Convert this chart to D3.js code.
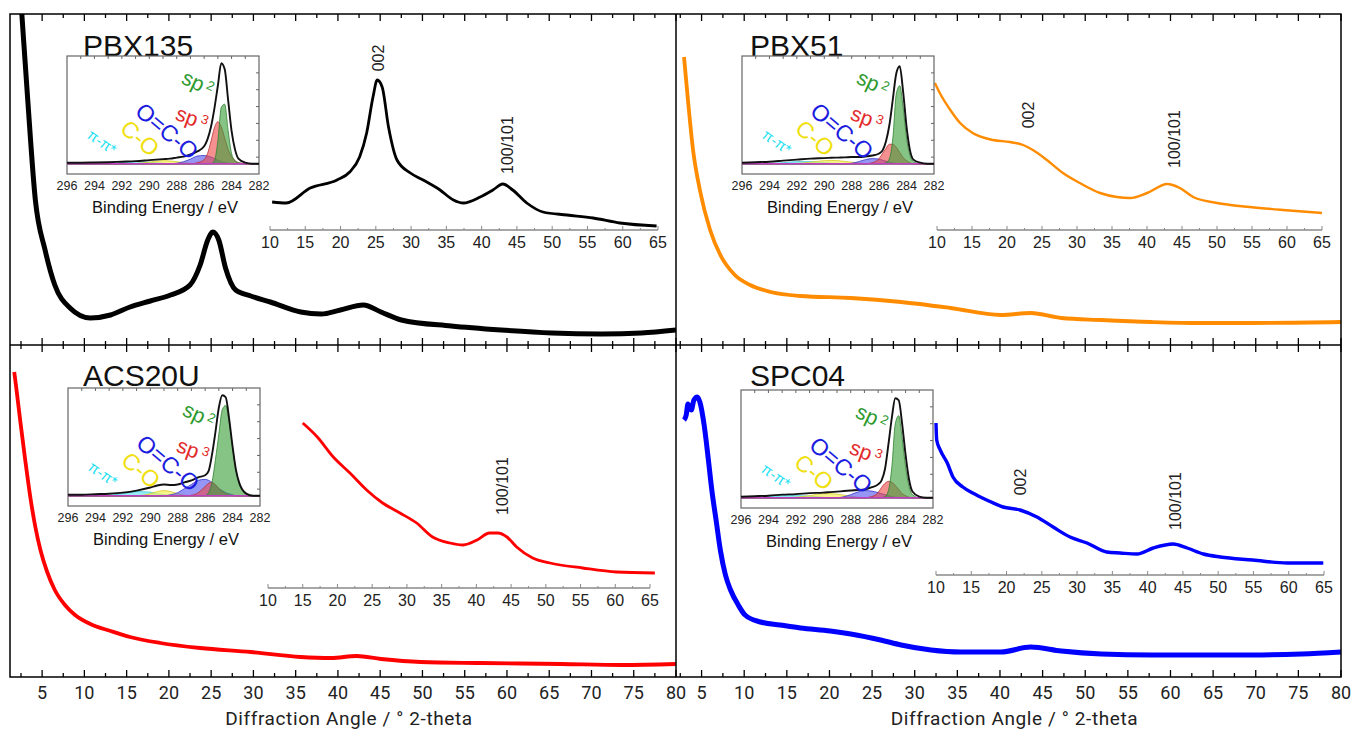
<!DOCTYPE html>
<html>
<head>
<meta charset="utf-8">
<script src="https://cdn.jsdelivr.net/npm/d3@7"></script>
<style>
body { margin: 0; background: #fff; }
svg { display: block; }
</style>
</head>
<body>
<svg id="chart" width="1356" height="730"></svg>
<script>
// ---- tick labels ----
var mainTicks = [5, 10, 15, 20, 25, 30, 35, 40, 45, 50, 55, 60, 65, 70, 75, 80];
var insetTicks = [10, 15, 20, 25, 30, 35, 40, 45, 50, 55, 60, 65];
var xpsTicks = [296, 294, 292, 290, 288, 286, 284, 282];

// ---- main XRD curves [2theta, intensity a.u.] ----
var pbx135Main = [[2.2,380],[2.6,331],[3.3,245],[4.2,145],[5.35,95],[6.5,60],[8.3,37],[10.7,27],[13.1,30],[15.4,38],[17.8,44],[20.2,50],[22.5,60],[23.7,80],[24.6,105],[25.2,113],[25.9,105],[26.7,77],[27.9,55],[29.7,49],[32.0,43],[35.6,33],[38.0,31],[40.3,35],[43.0,40],[45.1,33],[47.5,25],[53.4,19],[59.3,15],[65.3,12],[71.2,11],[75.9,12],[80.0,15]];
var pbx51Main = [[2.94,288],[3.4,245],[4.0,195],[4.8,155],[6.0,115],[7.2,90],[8.9,70],[10.7,60],[13.1,53],[16.6,49],[22.5,47],[28.4,43],[34.2,37],[40.1,30],[43.6,32],[47.2,27],[51.9,25],[57.8,23],[63.6,22],[69.5,22],[80.0,23]];
var acs20uMain = [[1.7,305],[1.9,292],[2.4,257],[3.0,217],[3.6,180],[4.2,150],[4.8,127],[5.6,105],[6.5,87],[7.7,72],[8.9,62],[10.7,53],[13.1,46],[15.4,40],[19.0,34],[23.7,29],[29.7,25],[35.6,20],[39.2,19],[42.2,21],[45.1,18],[49.8,15],[56.9,14],[66.4,13],[73.6,12],[80.0,13]];
var spc04Main = [[2.94,257],[3.2,262],[3.4,273],[3.8,267],[4.1,277],[4.5,280],[4.8,275],[5.3,252],[5.8,217],[6.2,187],[6.7,157],[7.2,127],[7.8,102],[8.4,87],[9.3,72],[10.1,62],[11.9,55],[14.2,52],[16.6,49],[20.1,46],[22.5,43],[26.0,37],[28.4,32],[31.9,27],[35.4,25],[40.1,25],[43.6,30],[47.2,26],[51.9,23],[57.8,22],[63.6,22],[69.5,22],[75.4,23],[80.0,25]];

// ---- inset XRD curves ----
var pbx135Inset = [[10.3,28],[12.3,27],[15.7,42],[19.5,50],[21.3,58],[22.7,73],[23.7,97],[24.6,133],[25.2,150],[25.9,143],[26.8,103],[28.0,70],[29.9,57],[31.7,50],[34.1,40],[36.0,30],[37.4,27],[39.8,33],[41.6,40],[43.0,46],[44.4,40],[46.4,27],[48.7,18],[52.1,15],[55.8,12],[59.6,7],[64.8,4]];
var pbx51Inset = [[9.7,147],[10.4,137],[11.9,120],[13.3,107],[15.1,97],[18.0,90],[20.4,88],[22.3,85],[23.7,80],[25.7,70],[28.0,57],[30.4,47],[33.3,37],[35.7,33],[37.6,32],[40.0,37],[42.9,46],[44.7,42],[46.6,33],[50.0,27],[54.7,23],[59.4,20],[65.0,17]];
var acs20uInset = [[15.0,165],[17.1,151],[19.4,131],[21.8,115],[24.2,98],[26.5,85],[29.0,75],[31.4,65],[33.7,51],[36.2,45],[38.1,43],[40.1,48],[41.9,55],[43.1,55],[44.4,51],[45.8,41],[48.1,30],[50.6,25],[55.3,20],[60.2,16],[65.7,15]];
var spc04Inset = [[10.0,152],[10.1,135],[10.6,125],[11.6,112],[12.4,98],[13.8,88],[15.2,82],[17.2,75],[19.5,68],[21.9,65],[24.3,58],[26.6,48],[29.0,38],[31.4,32],[34.2,23],[36.1,22],[38.5,21],[40.8,27],[43.6,31],[45.6,27],[47.9,21],[50.3,18],[54.9,15],[59.8,12],[64.9,12]];

// ---- peak labels [text, 2theta, intensity] ----
var pbx135Peaks = [["002", 25.3, 172], ["100/101", 43.7, 85]];
var pbx51Peaks = [["002", 23.0, 115], ["100/101", 43.9, 91]];
var acs20uPeaks = [["100/101", 43.8, 102]];
var spc04Peaks = [["002", 21.9, 93], ["100/101", 44.0, 74]];

// ---- XPS C1s fits (relative intensity) ----
var xpsEnergy = [296,295,294,293,292,291,290,289.5,289,288.5,288,287.5,287,286.5,286,285.75,285.5,285.25,285,284.75,284.5,284.25,284,283.75,283.5,283,282.5,282];

var pbx135Env = [.01,.01,.012,.015,.02,.025,.035,.04,.045,.05,.06,.07,.09,.12,.17,.24,.36,.54,.76,.98,.92,.62,.32,.14,.05,.01,0,0];
var pbx135Sp2 = [0,0,0,0,0,0,0,0,0,0,0,0,0,0,0,0,0,.03,.22,.55,.58,.32,.10,.03,.01,0,0,0];
var pbx135Sp3 = [0,0,0,0,0,0,0,0,0,0,0,0,0,.01,.04,.10,.22,.35,.41,.36,.25,.14,.07,.03,.01,0,0,0];
var pbx135Oco = [0,0,0,0,0,0,0,0,0,0,.005,.02,.045,.075,.08,.075,.065,.05,.035,.02,.01,.005,0,0,0,0,0,0];
var pbx135Co  = [0,0,0,0,0,.003,.015,.025,.03,.027,.02,.01,.005,0,0,0,0,0,0,0,0,0,0,0,0,0,0,0];
var pbx135Pi  = [0,0,0,.003,.01,.02,.015,.01,.005,0,0,0,0,0,0,0,0,0,0,0,0,0,0,0,0,0,0,0];

var pbx51Env = [.01,.015,.02,.03,.04,.05,.055,.058,.06,.062,.065,.065,.07,.08,.10,.13,.22,.38,.63,.88,.95,.70,.36,.13,.04,.01,0,0];
var pbx51Sp2 = [0,0,0,0,0,0,0,0,0,0,0,0,0,0,0,0,.01,.05,.25,.68,.76,.55,.25,.08,.02,0,0,0];
var pbx51Sp3 = [0,0,0,0,0,0,0,0,0,0,0,0,0,.01,.05,.10,.15,.19,.19,.16,.11,.06,.03,.01,0,0,0,0];
var pbx51Oco = [0,0,0,0,0,0,0,0,0,0,.005,.02,.04,.05,.045,.035,.025,.015,.008,.003,0,0,0,0,0,0,0,0];
var pbx51Co  = [0,0,0,0,.003,.015,.03,.032,.03,.022,.015,.007,.002,0,0,0,0,0,0,0,0,0,0,0,0,0,0,0];
var pbx51Pi  = [0,0,.003,.01,.02,.02,.01,.006,.003,0,0,0,0,0,0,0,0,0,0,0,0,0,0,0,0,0,0,0];

var acs20uEnv = [.01,.01,.015,.02,.03,.05,.08,.10,.11,.105,.11,.13,.15,.18,.20,.24,.40,.62,.86,.98,.96,.75,.48,.25,.12,.02,0,0];
var acs20uSp2 = [0,0,0,0,0,0,0,0,0,0,0,0,0,0,0,.03,.13,.35,.60,.84,.88,.72,.47,.25,.11,.02,0,0];
var acs20uSp3 = [0,0,0,0,0,0,0,0,0,0,0,0,.005,.03,.09,.12,.13,.11,.07,.04,.02,.005,0,0,0,0,0,0];
var acs20uOco = [0,0,0,0,0,0,0,0,0,.01,.03,.07,.11,.15,.16,.15,.13,.10,.07,.05,.03,.02,.01,0,0,0,0,0];
var acs20uCo  = [0,0,0,0,0,0,.02,.04,.05,.04,.02,.005,0,0,0,0,0,0,0,0,0,0,0,0,0,0,0,0];
var acs20uPi  = [0,0,0,.005,.02,.04,.035,.02,.01,.003,0,0,0,0,0,0,0,0,0,0,0,0,0,0,0,0,0,0];

var spc04Env = [.01,.015,.02,.03,.035,.045,.05,.055,.06,.065,.07,.075,.08,.10,.13,.17,.28,.52,.78,.97,.95,.72,.42,.18,.06,.01,0,0];
var spc04Sp2 = [0,0,0,0,0,0,0,0,0,0,0,0,0,0,0,0,.01,.07,.30,.72,.80,.58,.30,.11,.03,0,0,0];
var spc04Sp3 = [0,0,0,0,0,0,0,0,0,0,0,0,0,.01,.05,.10,.14,.16,.15,.12,.08,.04,.02,.005,0,0,0,0];
var spc04Oco = [0,0,0,0,0,0,0,0,0,.01,.03,.055,.07,.065,.05,.04,.03,.02,.01,.005,0,0,0,0,0,0,0,0];
var spc04Co  = [0,0,0,0,.005,.02,.04,.04,.035,.025,.015,.005,0,0,0,0,0,0,0,0,0,0,0,0,0,0,0,0];
var spc04Pi  = [0,.003,.01,.02,.02,.015,.005,0,0,0,0,0,0,0,0,0,0,0,0,0,0,0,0,0,0,0,0,0];

// ---- layout ----
var svg = d3.select("#chart");
var L = 10, R = 1341, T = 14, MX = 676, MY = 345, B = 677;
var sans = "'Liberation Sans', Arial, sans-serif";
var din = "Roboto, 'DejaVu Sans', sans-serif";

var panels = [
  {name: "PBX135", color: "#000", main: pbx135Main, mw: 5, inset: pbx135Inset, iw: 2.8, peaks: pbx135Peaks,
   xps: [pbx135Env, pbx135Sp2, pbx135Sp3, pbx135Oco, pbx135Co, pbx135Pi],
   x0: L, x1: MX, y0: T, y1: MY, dom: [1.2, 80],
   ix: [270, 658], iy: 230, px: 67, py: 56, tx: 83, ty: 56},
  {name: "PBX51", color: "#ff8c00", main: pbx51Main, mw: 3.8, inset: pbx51Inset, iw: 2.4, peaks: pbx51Peaks,
   xps: [pbx51Env, pbx51Sp2, pbx51Sp3, pbx51Oco, pbx51Co, pbx51Pi],
   x0: MX, x1: R, y0: T, y1: MY, dom: [2, 80],
   ix: [937, 1322], iy: 230, px: 742, py: 56, tx: 750, ty: 56},
  {name: "ACS20U", color: "#ff0000", main: acs20uMain, mw: 3.8, inset: acs20uInset, iw: 2.8, peaks: acs20uPeaks,
   xps: [acs20uEnv, acs20uSp2, acs20uSp3, acs20uOco, acs20uCo, acs20uPi],
   x0: L, x1: MX, y0: MY, y1: B, dom: [1.2, 80],
   ix: [268, 650], iy: 588, px: 68, py: 388, tx: 83, ty: 386},
  {name: "SPC04", color: "#0000ff", main: spc04Main, mw: 5, inset: spc04Inset, iw: 3.4, peaks: spc04Peaks,
   xps: [spc04Env, spc04Sp2, spc04Sp3, spc04Oco, spc04Co, spc04Pi],
   x0: MX, x1: R, y0: MY, y1: B, dom: [2, 80],
   ix: [936, 1324], iy: 575, px: 741, py: 390, tx: 750, ty: 386}
];

var compStyle = [
  null,
  {fill: "rgba(60,160,60,0.62)", stroke: "#2f7f2f"},   // sp2
  {fill: "rgba(238,70,70,0.6)", stroke: "#b83030"},    // sp3
  {fill: "rgba(80,80,240,0.6)", stroke: "#3434c8"},    // O=C-O
  {fill: "rgba(245,238,80,0.65)", stroke: "#d8c820"},  // C-O
  {fill: "rgba(70,225,240,0.55)", stroke: "#30c8d8"}   // pi-pi*
];

var xpsLabels = [
  {txt: "sp", sup: "2", color: "#2e9a2e", dx: 131, dy: 27, rot: 25, size: 21},
  {txt: "sp", sup: "3", color: "#e32a2a", dx: 125, dy: 62, rot: 20, size: 21},
  {txt: "O=C-O", color: "#1c1ce0", dx: 100, dy: 75, rot: 40, size: 23},
  {txt: "C-O", color: "#f0e010", dx: 73, dy: 82, rot: 40, size: 23},
  {txt: "\u03c0-\u03c0*", color: "#22dff0", dx: 35, dy: 86, rot: 35, size: 15}
];

var defs = svg.append("defs");

panels.forEach(function(p, k) {
  var x = d3.scaleLinear().domain(p.dom).range([p.x0, p.x1]);
  var y = d3.scaleLinear().domain([0, p.y1 - p.y0]).range([p.y1, p.y0]);

  defs.append("clipPath").attr("id", "clip" + k)
    .append("rect").attr("x", p.x0).attr("y", p.y0)
    .attr("width", p.x1 - p.x0).attr("height", p.y1 - p.y0);

  // main curve
  svg.append("path")
    .datum(p.main)
    .attr("clip-path", "url(#clip" + k + ")")
    .attr("fill", "none")
    .attr("stroke", p.color)
    .attr("stroke-width", p.mw)
    .attr("stroke-linejoin", "round")
    .attr("d", d3.line().x(function(d) { return x(d[0]); }).y(function(d) { return y(d[1]); })
      .curve(d3.curveMonotoneX));

  // title
  svg.append("text").attr("x", p.tx).attr("y", p.ty)
    .attr("font-family", sans).attr("font-size", 30).attr("fill", "#111")
    .text(p.name);

  // ---- XRD inset ----
  var ix = d3.scaleLinear().domain([10, 65]).range(p.ix);
  var iy = d3.scaleLinear().domain([0, 200]).range([p.iy, p.iy - 200]);
  var ig = svg.append("g");
  ig.append("line").attr("x1", ix(10)).attr("x2", ix(65)).attr("y1", p.iy).attr("y2", p.iy)
    .attr("stroke", "#8a8a8a").attr("stroke-width", 1.5);
  d3.range(10, 65.1, 2.5).forEach(function(t) {
    var major = (t % 5 === 0);
    ig.append("line").attr("x1", ix(t)).attr("x2", ix(t))
      .attr("y1", p.iy).attr("y2", p.iy - (major ? 4 : 2))
      .attr("stroke", "#8a8a8a").attr("stroke-width", 1);
  });
  ig.selectAll("text.it").data(insetTicks).enter().append("text")
    .attr("x", function(d) { return ix(d); }).attr("y", p.iy + 18)
    .attr("text-anchor", "middle").attr("font-family", sans).attr("font-size", 16)
    .attr("fill", "#222").text(function(d) { return d; });
  ig.append("path").datum(p.inset)
    .attr("fill", "none").attr("stroke", p.color).attr("stroke-width", p.iw)
    .attr("stroke-linejoin", "round")
    .attr("d", d3.line().x(function(d) { return ix(d[0]); }).y(function(d) { return iy(d[1]); })
      .curve(d3.curveMonotoneX));
  p.peaks.forEach(function(pk) {
    ig.append("text")
      .attr("transform", "translate(" + ix(pk[1]) + "," + iy(pk[2]) + ") rotate(-90)")
      .attr("text-anchor", "middle").attr("dy", "0.35em")
      .attr("font-family", sans).attr("font-size", 16).attr("fill", "#222")
      .text(pk[0]);
  });

  // ---- XPS inset ----
  var fw = 192, fh = 118;
  var ex = d3.scaleLinear().domain([296, 282]).range([p.px, p.px + fw]);
  var ey = d3.scaleLinear().domain([-0.1, 1.05]).range([p.py + fh, p.py]);
  var xg = svg.append("g");
  xg.append("rect").attr("x", p.px).attr("y", p.py).attr("width", fw).attr("height", fh)
    .attr("fill", "#fff").attr("stroke", "#666").attr("stroke-width", 1.2);
  d3.range(295, 282, -1).forEach(function(e) {
    xg.append("line").attr("x1", ex(e)).attr("x2", ex(e)).attr("y1", p.py).attr("y2", p.py + 3)
      .attr("stroke", "#666");
  });
  d3.range(1, 7).forEach(function(i) {
    var yy = p.py + i * fh / 7;
    xg.append("line").attr("x1", p.px + fw).attr("x2", p.px + fw - 3).attr("y1", yy).attr("y2", yy)
      .attr("stroke", "#666");
  });

  var area = d3.area().x(function(d, i) { return ex(xpsEnergy[i]); })
    .y0(ey(0)).y1(function(d) { return ey(d); }).curve(d3.curveMonotoneX);
  var line = d3.line().x(function(d, i) { return ex(xpsEnergy[i]); })
    .y(function(d) { return ey(d); }).curve(d3.curveMonotoneX);

  [5, 4, 3, 2, 1].forEach(function(c) {
    xg.append("path").datum(p.xps[c])
      .attr("fill", compStyle[c].fill).attr("stroke", compStyle[c].stroke)
      .attr("stroke-width", 0.8).attr("d", area);
  });
  xg.append("line").attr("x1", ex(296)).attr("x2", ex(282)).attr("y1", ey(0)).attr("y2", ey(0))
    .attr("stroke", "#c040c0").attr("stroke-width", 1.3);
  xg.append("path").datum(p.xps[0])
    .attr("fill", "none").attr("stroke", "#111").attr("stroke-width", 1.9)
    .attr("d", line);

  xg.selectAll("text.xt").data(xpsTicks).enter().append("text")
    .attr("x", function(d) { return ex(d); }).attr("y", p.py + fh + 16)
    .attr("text-anchor", "middle").attr("font-family", sans).attr("font-size", 12.5)
    .attr("fill", "#222").text(function(d) { return d; });
  xg.append("text").attr("x", p.px + fw / 2 + 2).attr("y", p.py + fh + 39)
    .attr("text-anchor", "middle").attr("font-family", sans).attr("font-size", 16.5)
    .attr("fill", "#111").text("Binding Energy / eV");

  xpsLabels.forEach(function(lb) {
    var t = xg.append("text")
      .attr("transform", "translate(" + (p.px + lb.dx) + "," + (p.py + lb.dy) + ") rotate(" + lb.rot + ")")
      .attr("text-anchor", "middle").attr("dy", "0.35em")
      .attr("font-family", sans).attr("font-size", lb.size).attr("fill", lb.color);
    t.append("tspan").text(lb.txt);
    if (lb.sup) {
      t.append("tspan").attr("dx", 3).attr("dy", "-0.45em").attr("font-size", lb.size * 0.62).text(lb.sup);
    }
  });

  // ---- frame ticks for this panel ----
  var tg = svg.append("g").attr("stroke", "#000").attr("stroke-width", 1.3);
  d3.range(2.5, 80.1, 2.5).filter(function(t) { return t >= p.dom[0]; }).forEach(function(t) {
    var len = (t % 5 === 0) ? 7 : 4;
    tg.append("line").attr("x1", x(t)).attr("x2", x(t)).attr("y1", p.y0).attr("y2", p.y0 + len);
    tg.append("line").attr("x1", x(t)).attr("x2", x(t)).attr("y1", p.y1).attr("y2", p.y1 - len);
  });

  if (p.y1 === B) {
    svg.selectAll(null).data(mainTicks).enter().append("text")
      .attr("x", function(d) { return x(d); }).attr("y", B + 22)
      .attr("text-anchor", "middle").attr("font-family", din).attr("font-size", 18)
      .attr("fill", "#222").text(function(d) { return d; });
    svg.append("text").attr("x", (p.x0 + p.x1) / 2 + 6).attr("y", B + 48)
      .attr("text-anchor", "middle").attr("font-family", din).attr("font-size", 19)
      .attr("letter-spacing", 0.6).attr("fill", "#222")
      .text("Diffraction Angle / \u00b0 2-theta");
  }
});

// outer frame and dividers
var fr = svg.append("g").attr("stroke", "#000").attr("stroke-width", 1.5).attr("fill", "none");
fr.append("rect").attr("x", L).attr("y", T).attr("width", R - L).attr("height", B - T);
fr.append("line").attr("x1", MX).attr("x2", MX).attr("y1", T).attr("y2", B);
fr.append("line").attr("x1", L).attr("x2", R).attr("y1", MY).attr("y2", MY);
</script>
</body>
</html>
